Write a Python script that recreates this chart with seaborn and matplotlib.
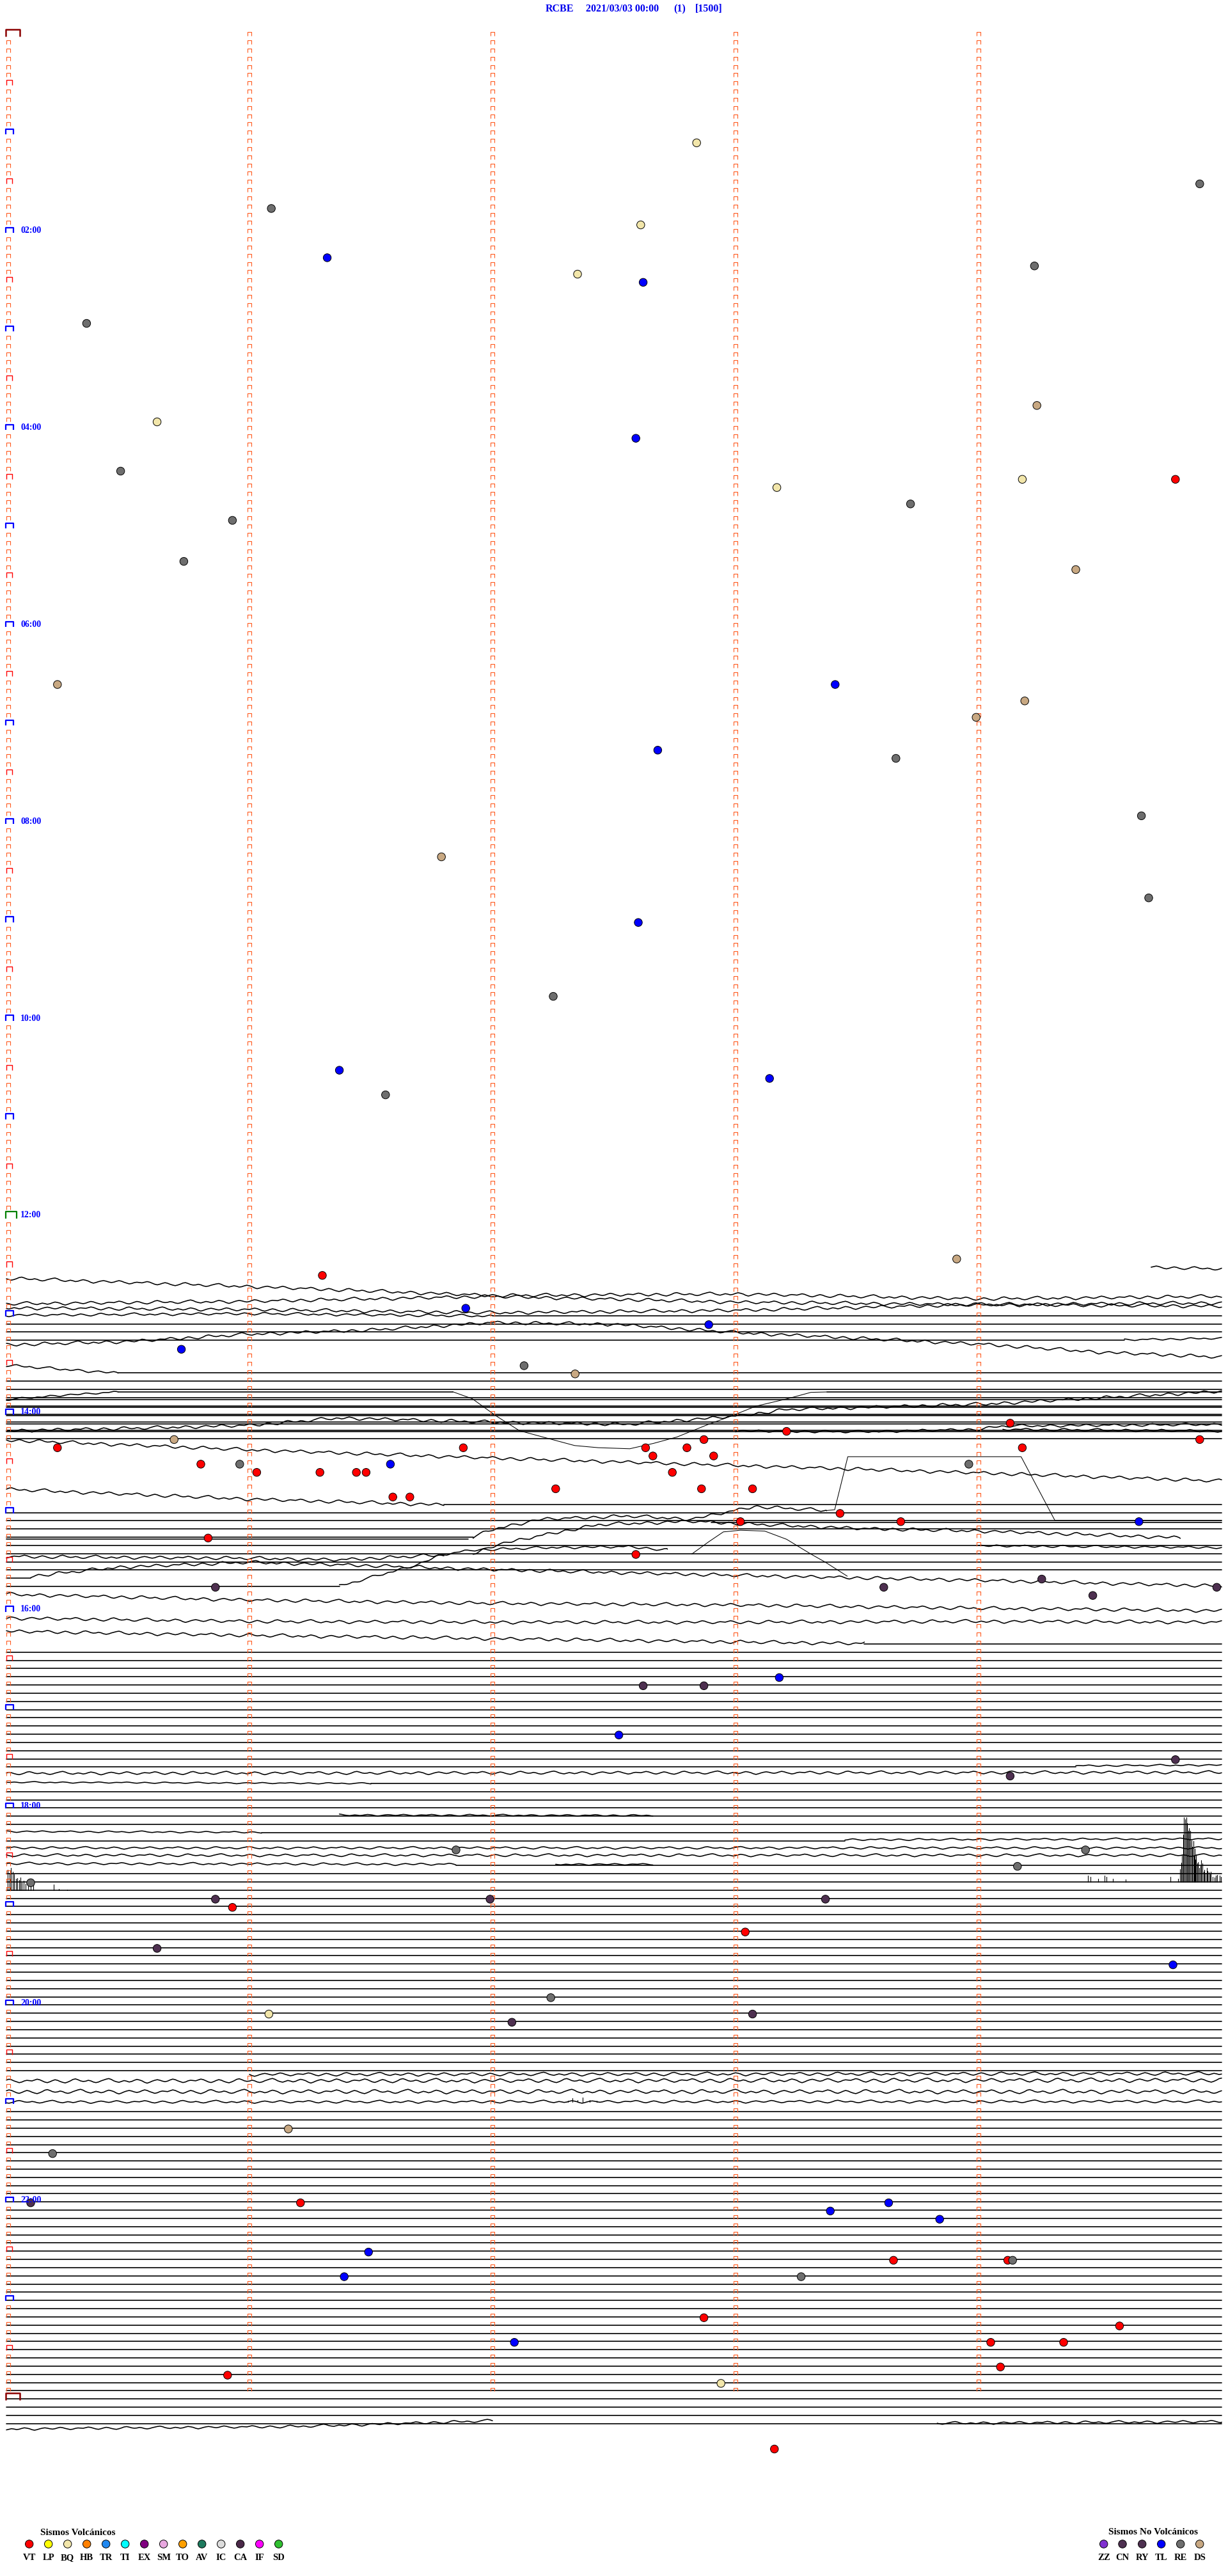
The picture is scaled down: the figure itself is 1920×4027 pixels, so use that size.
import numpy as np
import pandas as pd
import matplotlib
matplotlib.use("Agg")
import matplotlib.pyplot as plt
from matplotlib.path import Path
import seaborn as sns

sns.set_theme(style="white")
plt.rcParams['font.family'] = ['Liberation Serif', 'DejaVu Serif']

# ---------------------------------------------------------------- data
station = "RCBE"
date_label = "2021/03/03 00:00"
channel_label = "(1)"
scale_label = "[1500]"

hour_labels = ["02:00", "04:00", "06:00", "08:00", "10:00", "12:00",
               "14:00", "16:00", "18:00", "20:00", "22:00"]
hour_label_rows = [24, 48, 72, 96, 120, 144, 168, 192, 216, 240, 264]

# events: time of day in minutes, and event class
event_time = [67.84, 94.91, 106.09, 117.61, 136.32, 144.23, 147.35, 152.62, 175.33,
              229.24, 235.62, 247.59, 265.47, 274.81, 274.18, 278.17, 288.72, 295.93,
              320.73, 329.40, 395.21, 398.41, 409.19, 418.99, 437.68, 443.66, 479.67,
              501.79, 529.70, 542.60, 587.25, 631.37, 638.14, 646.56, 748.91,
              756.30, 776.89, 787.89, 800.72, 812.13, 817.34, 849.13, 853.21, 855.69,
              857.87, 859.91, 860.21, 861.88, 862.63, 862.80, 864.18, 867.66, 867.91,
              870.80, 870.96, 871.58, 873.96, 876.03, 876.29, 876.44, 876.48, 877.74,
              887.26, 887.86, 888.07, 891.59, 891.66, 903.43, 908.02, 908.68, 909.66,
              915.83, 927.59,
              944.26, 945.86, 948.61, 949.98, 954.47, 1003.18, 1007.62, 1007.87, 1037.52,
              1054.81, 1064.13, 1106.85, 1109.44,
              1119.16, 1125.10, 1135.86, 1136.99, 1138.37, 1140.93, 1158.04, 1165.62,
              1179.80, 1197.24, 1206.08, 1208.07, 1212.08, 1276.16, 1290.19,
              1320.10, 1321.21, 1323.63, 1328.39, 1333.84, 1351.49, 1358.65, 1359.12,
              1359.14, 1366.39, 1368.27, 1392.87, 1399.58, 1407.09, 1409.05, 1409.35,
              1424.09, 1425.91, 1432.94, 1473.16]
event_type = ["BQ", "RE", "RE", "BQ", "TL", "RE", "BQ", "TL", "RE",
              "DS", "BQ", "TL", "RE", "VT", "BQ", "BQ", "RE", "RE",
              "RE", "DS", "DS", "TL", "DS", "DS", "TL", "RE", "RE",
              "DS", "RE", "TL", "RE", "TL", "TL", "RE", "DS",
              "VT", "TL", "TL", "TL", "RE", "DS", "VT", "VT", "DS",
              "VT", "VT", "VT", "VT", "VT", "VT", "VT", "VT", "VT",
              "VT", "RE", "TL", "RE", "VT", "VT", "VT", "VT", "VT",
              "VT", "VT", "VT", "VT", "VT", "VT", "VT", "VT", "TL",
              "VT", "VT",
              "CN", "CN", "CN", "CN", "CN", "TL", "CN", "CN", "TL",
              "CN", "CN", "RE", "RE",
              "RE", "RE", "CN", "CN", "CN", "VT", "VT", "CN",
              "TL", "RE", "BQ", "CN", "CN", "DS", "RE",
              "CN", "VT", "TL", "TL", "TL", "TL", "VT", "VT",
              "RE", "TL", "RE", "VT", "VT", "TL", "VT", "VT",
              "VT", "VT", "BQ", "VT"]

volc_types = ["VT", "LP", "BQ", "HB", "TR", "TI", "EX", "SM", "TO", "AV", "IC", "CA", "IF", "SD"]
volc_colors = ["#FF0000", "#FFFF00", "#F2E6AA", "#FF8000", "#2088F0", "#00FFFF", "#800080",
               "#E8A8E0", "#FFA000", "#1E7A5E", "#DCDCDC", "#4A2848", "#FF00FF", "#30C030"]
nonvolc_types = ["ZZ", "CN", "RY", "TL", "RE", "DS"]
nonvolc_colors = ["#8030D0", "#4E3050", "#4E3050", "#0000FF", "#6E6E6E", "#C8A882"]

# baseline (no signal) rows drawn as straight lines
flat_full_rows = ([157, 158] + list(range(164, 172)) + [180, 181, 182, 184, 185, 186, 187]
                  + list(range(197, 211)) + [214, 215, 216, 217, 218]
                  + list(range(224, 249)) + list(range(253, 292)))
flat_partial = [(156, 2.0, 5.0), (159, 0.0, 4.6), (163, 0.46, 5.0), (179, 1.8, 5.0),
                (183, 0.0, 1.92), (188, 0.0, 0.1), (189, 0.0, 1.37), (196, 3.53, 5.0),
                (211, 0.0, 4.4), (213, 1.5, 5.0), (219, 1.05, 5.0), (220, 0.0, 3.45),
                (223, 1.85, 5.0)]
flat_extra = [(165.55, 0.46, 1.836), (165.55, 3.375, 5.0), (166.45, 0.0, 5.0),
              (167.4, 0.0, 5.0), (168.4, 0.0, 5.0), (169.45, 0.0, 5.0),
              (170.4, 0.0, 5.0), (181.45, 2.9, 5.0), (183.45, 0.0, 1.9)]

# wiggly traces: drift control points (minute, row) and wiggle amplitude
wave_traces = [
    ([4.71, 5.0], [150.35, 150.55], 0.9),
    ([0, 1, 2, 3, 4, 5], [151.7, 152.7, 153.8, 153.6, 154.2, 153.9], 1.0),
    ([0, 1, 2, 3, 4, 5], [154.8, 154.5, 153.9, 154.6, 154.9, 154.7], 1.0),
    ([0, 1, 2, 3, 4, 5], [155.3, 155.5, 155.9, 155.6, 154.9, 155.1], 1.0),
    ([0, 1, 2], [156.2, 156.0, 156.3], 0.8),
    ([4.6, 5.0], [159.2, 159.0], 0.6),
    ([0, 0.5, 1, 1.5, 2, 2.5, 3, 3.5, 4, 4.5, 5],
     [159.8, 159.4, 158.5, 158.0, 157.1, 157.3, 158.3, 159.0, 159.7, 160.7, 161.3], 1.0),
    ([0, 0.46], [162.3, 163.25], 0.8),
    ([0, 0.2, 0.46], [166.5, 166.0, 165.55], 0.6),
    ([0, 0.46, 1.0, 1.37, 2.0, 2.56, 3.02, 3.21, 4.02, 5.0],
     [170.27, 170.01, 169.62, 168.71, 169.23, 169.49, 168.45, 167.68, 167.03, 165.47], 1.0),
    ([3.0, 3.5, 4.0, 4.1, 5.0], [170.3, 170.4, 170.1, 169.7, 169.5], 0.8),
    ([4.1, 5.0], [170.1, 170.3], 0.8),
    ([0, 1, 2, 3, 4, 5], [171.4, 172.6, 173.6, 174.5, 175.4, 176.4], 1.0),
    ([0, 1.0, 1.8], [177.4, 178.6, 179.3], 1.0),
    ([1.92, 2.01, 2.2, 2.56, 2.82, 3.08, 3.375],
     [183.26, 182.2, 181.05, 180.66, 181.05, 179.5, 180.0], 1.0),
    ([1.92, 2.01, 2.24, 2.44, 2.82, 3.02, 3.53, 4.02, 4.83],
     [185.3, 184.2, 182.8, 181.7, 181.3, 181.6, 182.2, 182.5, 183.3], 1.0),
    ([4.0, 5.0], [184.3, 184.5], 0.7),
    ([0, 1.0, 1.37, 1.8], [185.6, 185.8, 186.0, 185.4], 1.0),
    ([0.1, 0.46, 1.0, 1.37, 2.01, 3.02, 4.02, 5.0],
     [188.0, 186.9, 186.3, 186.6, 187.2, 187.9, 188.5, 189.2], 1.0),
    ([1.37, 1.47, 1.59, 1.69, 1.79, 1.92, 2.24, 2.56, 2.72],
     [189.2, 188.4, 187.4, 186.6, 185.4, 184.8, 184.5, 184.4, 184.8], 0.8),
    ([0, 1, 2, 3, 4, 5], [190.2, 190.9, 191.3, 191.5, 191.9, 192.2], 1.0),
    ([0, 1, 2, 3, 4, 5], [193.1, 193.5, 193.6, 193.6, 193.5, 193.6], 1.0),
    ([0, 1, 2, 3, 3.53], [194.7, 195.2, 195.6, 196.0, 196.2], 1.0),
    ([4.4, 5.0], [211.1, 211.0], 0.5),
    ([0, 5.0], [212.0, 211.9], 0.9),
    ([0, 1.5], [213.1, 213.25], 0.4),
    ([1.37, 2.66], [217.1, 217.15], 0.5),
    ([0, 1.05], [219.1, 219.2], 0.5),
    ([3.45, 5.0], [220.1, 220.0], 0.6),
    ([0, 5.0], [221.1, 221.1], 0.7),
    ([0, 5.0], [222.0, 222.0], 0.8),
    ([0, 1.85], [223.0, 223.1], 0.7),
    ([2.26, 2.66], [223.1, 223.1], 0.5),
    ([1.0, 5.0], [248.7, 248.6], 1.0),
    ([0, 5.0], [249.5, 249.4], 1.2),
    ([0, 5.0], [250.8, 250.8], 1.2),
    ([0, 5.0], [252.05, 252.0], 0.8),
    ([3.83, 5.0], [291.2, 291.0], 0.8),
    ([0, 1.2, 2.0], [291.9, 291.6, 290.9], 0.8),
]

# wiggle shape (pixels, one sample every 4 px)
wiggle_px = [0, -1.5, -3, -2, 0, 2, 3, 1.5, -0.5, -2, -1, 1, 2.5, 3.5, 2, 0,
             -2.5, -3.5, -2, 0, 1, 0.5, -1, 0, 2, 3, 2, 0, -1.5, -3, -4, -2.5,
             0, 1.5, 2.5, 1, -0.5, 0.5, 2, 1, -1, -2.5, -1.5, 0, 2.5, 4, 2.5, 0.5,
             -1, -2, -1, 0.5, 1.5, 0.5, -1.5, -3, -2, 0, 1.5, 3, 2, 0, -1, -0.5]

# long-period swings (thin lines)
swing_x = [[1.836, 1.917, 2.014, 2.111, 2.241, 2.338, 2.435, 2.565, 2.662, 2.759,
            2.889, 2.986, 3.083, 3.213, 3.310, 3.375],
           [3.375, 3.408, 3.462, 4.175, 4.314, 5.0],
           [2.82, 2.89, 2.95, 3.02, 3.12, 3.21, 3.31, 3.37, 3.46]]
swing_y = [[165.52, 166.38, 168.45, 170.27, 171.31, 172.08, 172.34, 172.47, 171.82,
            171.04, 169.49, 168.45, 167.29, 166.38, 165.60, 165.55],
           [180.0, 179.9, 173.44, 173.44, 181.2, 181.2],
           [185.3, 183.8, 182.6, 182.4, 182.5, 183.5, 185.3, 186.3, 188.0]]

# spikes: minute, top row, base row
spike_x = [4.450, 4.461, 4.491, 4.518, 4.526, 4.553, 4.605, 4.789, 4.820, 4.830, 4.833,
           4.838, 4.842, 4.844, 4.849, 4.851, 4.856, 4.859, 4.862, 4.867, 4.870, 4.872,
           4.877, 4.880, 4.883, 4.886, 4.889, 4.893, 4.896, 4.900, 4.903, 4.908, 4.912,
           4.917, 4.921, 4.925, 4.930, 4.935, 4.939, 4.943, 4.947, 4.952, 4.956, 4.962,
           4.970, 4.977, 4.982, 4.991, 4.997,
           0.006, 0.012, 0.019, 0.026, 0.032, 0.039, 0.045, 0.052, 0.058, 0.064, 0.071,
           0.080, 0.090, 0.100, 0.110, 0.194, 0.216, 0.249,
           2.31, 2.33, 2.35, 2.37, 2.40, 2.43]
spike_top = [224.5, 224.6, 224.9, 224.5, 224.6, 224.9, 224.95, 224.6, 224.9, 223.7, 222.9,
             222.0, 219.5, 217.4, 217.6, 221.7, 217.4, 218.1, 219.0, 218.7, 220.5, 219.0,
             220.2, 221.0, 220.3, 222.1, 221.2, 222.5, 221.9, 223.0, 222.8, 223.5, 223.3,
             222.6, 223.0, 224.0, 223.8, 224.2, 223.5, 223.9, 224.1, 224.3, 224.0, 224.6,
             224.7, 224.5, 224.4, 224.5, 224.6,
             223.8, 224.2, 223.5, 224.0, 224.3, 224.9, 224.8, 225.0, 224.7, 225.3, 225.1,
             225.5, 225.4, 225.8, 225.6, 225.6, 226.1, 226.2,
             251.9, 251.6, 251.8, 251.5, 251.8, 251.9]
spike_base = [225.25] * 49 + [226.3] * 18 + [252.1] * 6

# ---------------------------------------------------------------- layout
W, H = 1920, 4027
X0, PX_MIN = 10.0, 380.0          # pixel of minute 0, pixels per minute
Y0, PX_ROW = 52.0, 12.83          # pixel of row 0, pixels per 5-minute row
FLAT_OFF = 0.25
STEP = 4.0 / PX_MIN
WIG_SCALE = 0.75

fig = plt.figure(figsize=(W / 100, H / 100), dpi=100)
fig.patch.set_facecolor("white")
ax = fig.add_axes([0, 0, 1, 1])
ax.set_facecolor("white")

# --- traces table
recs = []
uid = 0
for r in flat_full_rows:
    for x in (0.0, 5.0):
        recs.append((uid, x, r + FLAT_OFF, "flat"))
    uid += 1
for r, x0, x1 in flat_partial:
    for x in (x0, x1):
        recs.append((uid, x, r + FLAT_OFF, "flat"))
    uid += 1
for y, x0, x1 in flat_extra:
    for x in (x0, x1):
        recs.append((uid, x, y, "flat"))
    uid += 1
wig = np.array(wiggle_px) / PX_ROW
for k, (xc, yc, amp) in enumerate(wave_traces):
    xs = np.arange(xc[0], xc[-1] + 1e-9, STEP)
    if xs[-1] < xc[-1] - 1e-6:
        xs = np.append(xs, xc[-1])
    base = np.interp(xs, xc, yc)
    idx = (np.arange(len(xs)) + 11 * k) % len(wig)
    ys = base + WIG_SCALE * amp * wig[idx]
    for x, y in zip(xs, ys):
        recs.append((uid, x, y, "wave"))
    uid += 1
for xs, ys in zip(swing_x, swing_y):
    for x, y in zip(xs, ys):
        recs.append((uid, x, y, "thin"))
    uid += 1
for x, t, b in zip(spike_x, spike_top, spike_base):
    recs.append((uid, x, b, "spike"))
    recs.append((uid, x, t, "spike"))
    uid += 1
tr = pd.DataFrame(recs, columns=["unit", "x", "y", "kind"])

for kind, lw in (("flat", 1.2), ("wave", 1.15), ("thin", 0.75), ("spike", 0.8)):
    sub = tr[tr["kind"] == kind]
    sns.lineplot(data=sub, x="x", y="y", units="unit", estimator=None, sort=False,
                 color="black", linewidth=lw, ax=ax, legend=False, zorder=3)

# --- row markers (⊓ ticks)
def cap_path(h):
    return Path([(-1, -h), (-1, h), (1, h), (1, -h)])

n_rows = 288
minor_rows = [r for r in range(1, n_rows) if r % 6 != 0]
half_rows = [r for r in range(1, n_rows) if r % 6 == 0 and r % 12 != 0]
hour_rows = [r for r in range(12, n_rows, 12) if r != 144]
noon_rows = [144]
end_rows = [0, 288]

mk = dict(facecolors="none", zorder=4)
ax.scatter([0.0076] * len(minor_rows), np.array(minor_rows) + 0.1, marker=cap_path(1.0),
           s=4.3 ** 2, edgecolors="#FF5A1E", linewidths=0.8, **mk)
for m in (1, 2, 3, 4):
    ax.scatter([m] * n_rows, np.arange(n_rows) + 0.1, marker=cap_path(1.0),
               s=4.3 ** 2, edgecolors="#FF5A1E", linewidths=0.8, **mk)
ax.scatter([0.0113] * len(half_rows), half_rows, marker=cap_path(0.92),
           s=6.3 ** 2, edgecolors="#FF0000", linewidths=1.0, **mk)
ax.scatter([0.0128] * len(hour_rows), hour_rows, marker=cap_path(0.71),
           s=8.4 ** 2, edgecolors="#0000FF", linewidths=1.6, **mk)
ax.scatter([0.020] * len(noon_rows), noon_rows, marker=cap_path(0.66),
           s=12.0 ** 2, edgecolors="#008000", linewidths=1.6, **mk)
ax.scatter([0.026] * len(end_rows), np.array(end_rows) - 0.04, marker=cap_path(0.51),
           s=15.4 ** 2, edgecolors="#8B0000", linewidths=1.8, **mk)

# --- hour labels
for r, lab in zip(hour_label_rows, hour_labels):
    ax.text(0.058, r + 0.31, lab, color="#0000FF", fontsize=10, fontweight="bold",
            ha="left", va="baseline", zorder=6)

# --- events
palette = dict(zip(volc_types, volc_colors))
palette.update(dict(zip(nonvolc_types, nonvolc_colors)))
et = np.array(event_time)
ev_row = np.floor(et / 5.0)
ev = pd.DataFrame({"x": et - 5.0 * ev_row, "y": ev_row + 0.35, "type": event_type})
sns.scatterplot(data=ev, x="x", y="y", hue="type", palette=palette, s=80,
                edgecolor="black", linewidth=0.7, legend=False, ax=ax, zorder=5)

ax.set_xlim((0 - X0) / PX_MIN, (W - X0) / PX_MIN)
ax.set_ylim((H - Y0) / PX_ROW, (0 - Y0) / PX_ROW)
ax.axis("off")

# ---------------------------------------------------------------- header & legends (pixel space)
lax = fig.add_axes([0, 0, 1, 1], facecolor="none")
lax.set_xlim(0, W)
lax.set_ylim(H, 0)
lax.axis("off")

tkw = dict(color="#0000EE", fontsize=11.5, fontweight="bold", ha="center", va="baseline")
for txt, xc in zip([station, date_label, channel_label, scale_label], [875, 973, 1062.5, 1108.5]):
    lax.text(xc, 18.3, txt, **tkw)

lkw = dict(color="black", fontweight="bold", va="baseline")
lax.text(63, 3963, "Sismos Volcánicos", fontsize=11, ha="left", **lkw)
vx = 45.7 + 30 * np.arange(len(volc_types))
lax.scatter(vx, [3977] * len(vx), s=80, c=volc_colors, edgecolors="black", linewidths=0.7)
for x, lab in zip(vx, volc_types):
    lax.text(x, 4002, lab, fontsize=10.5, ha="center", **lkw)

lax.text(1733, 3962, "Sismos No Volcánicos", fontsize=11, ha="left", **lkw)
nx = np.array([1725.7, 1755.0, 1785.7, 1815.7, 1845.7, 1875.7])
lax.scatter(nx, [3977] * len(nx), s=80, c=nonvolc_colors, edgecolors="black", linewidths=0.7)
for x, lab in zip(nx, nonvolc_types):
    lax.text(x, 4002, lab, fontsize=10.5, ha="center", **lkw)

fig.savefig("out.png", dpi=100, facecolor="white")
